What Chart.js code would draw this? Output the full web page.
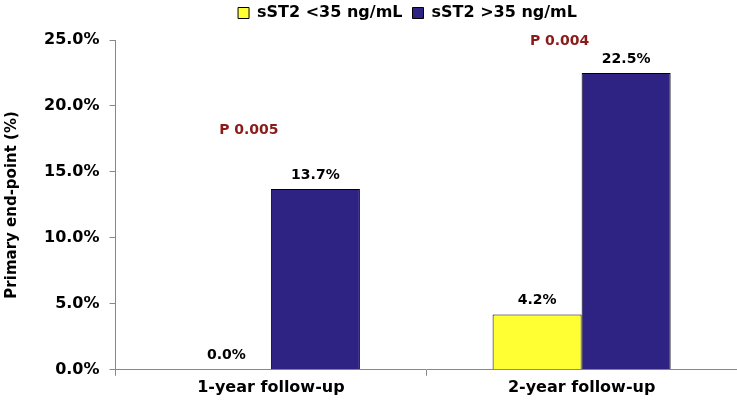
<!DOCTYPE html>
<html>
<head>
<meta charset="utf-8">
<script src="https://cdn.jsdelivr.net/npm/chart.js@4/dist/chart.umd.min.js"></script>
<style>
  html, body { margin: 0; padding: 0; background: #fff; }
  #wrap { width: 737px; height: 402px; position: relative; }
</style>
</head>
<body>
<div id="wrap"><canvas id="chart"></canvas></div>
<script>
const categories = ['1-year follow-up', '2-year follow-up'];
const lowST2 = [0.0, 4.2];
const highST2 = [13.7, 22.5];
const seriesNames = ['sST2 <35 ng/mL', 'sST2 >35 ng/mL'];
const pLabels = ['P 0.005', 'P 0.004'];
const pLevels = [18.2, 25.0];

const FONT = 'DejaVu Sans';

// value labels above bars, p-value notes, legend placement tweaks
const labelPlugin = {
  id: 'labels',
  beforeInit(chart) {
    if (chart.legend) {
      const orig = chart.legend.fit;
      chart.legend.fit = function () {
        orig.call(this);
        this.height += 2;
      };
    }
  },
  beforeDraw(chart) {
    // legend sits a bit right of the canvas centre in the original
    const lg = chart.legend;
    lg.left = 39;
    lg.right = chart.width + 39;
    lg.top = -5;
  },
  afterDatasetsDraw(chart) {
    const ctx = chart.ctx;
    ctx.save();
    ctx.font = 'bold 14px ' + FONT;
    ctx.fillStyle = '#000';
    ctx.textAlign = 'center';
    ctx.textBaseline = 'bottom';
    chart.data.datasets.forEach((ds, di) => {
      chart.getDatasetMeta(di).data.forEach((bar, i) => {
        ctx.fillText(ds.data[i].toFixed(1) + '%', bar.x, bar.y - 7);
      });
    });
    ctx.fillStyle = '#8b1a1a';
    const x = chart.scales.x, y = chart.scales.y;
    pLabels.forEach((t, i) => {
      ctx.fillText(t, x.getPixelForValue(i) - 22, y.getPixelForValue(pLevels[i]) + 8);
    });
    ctx.restore();
  }
};

new Chart(document.getElementById('chart'), {
  type: 'bar',
  data: {
    labels: categories,
    datasets: [
      { label: seriesNames[0], data: lowST2, backgroundColor: '#ffff33', borderColor: '#000', borderWidth: 1 },
      { label: seriesNames[1], data: highST2, backgroundColor: '#2e2382', borderColor: '#000', borderWidth: 1 }
    ]
  },
  options: {
    responsive: true,
    maintainAspectRatio: false,
    animation: false,
    barPercentage: 1,
    categoryPercentage: 0.573,
    layout: { padding: { top: 2, right: 0, left: 0, bottom: 3 } },
    plugins: {
      legend: {
        position: 'top',
        labels: {
          color: '#000',
          font: { family: FONT, size: 16, weight: 'bold' },
          boxWidth: 11,
          boxHeight: 11,
          padding: 10
        }
      },
      tooltip: { enabled: false }
    },
    scales: {
      x: {
        grid: { display: true, drawOnChartArea: false, color: '#888', tickLength: 6, offset: true },
        border: { color: '#888' },
        ticks: { color: '#000', font: { family: FONT, size: 16, weight: 'bold' }, padding: 2 }
      },
      y: {
        min: 0,
        max: 25,
        grid: { display: true, drawOnChartArea: false, color: '#888', tickLength: 6 },
        border: { color: '#888' },
        ticks: {
          stepSize: 5,
          color: '#000',
          font: { family: FONT, size: 16, weight: 'bold' },
          padding: 10,
          callback: v => v.toFixed(1) + '%'
        },
        title: {
          display: true,
          text: 'Primary end-point (%)',
          color: '#000',
          font: { family: FONT, size: 15, weight: 'bold' },
          padding: { top: 3, bottom: 13 }
        }
      }
    }
  },
  plugins: [labelPlugin]
});
</script>
</body>
</html>
